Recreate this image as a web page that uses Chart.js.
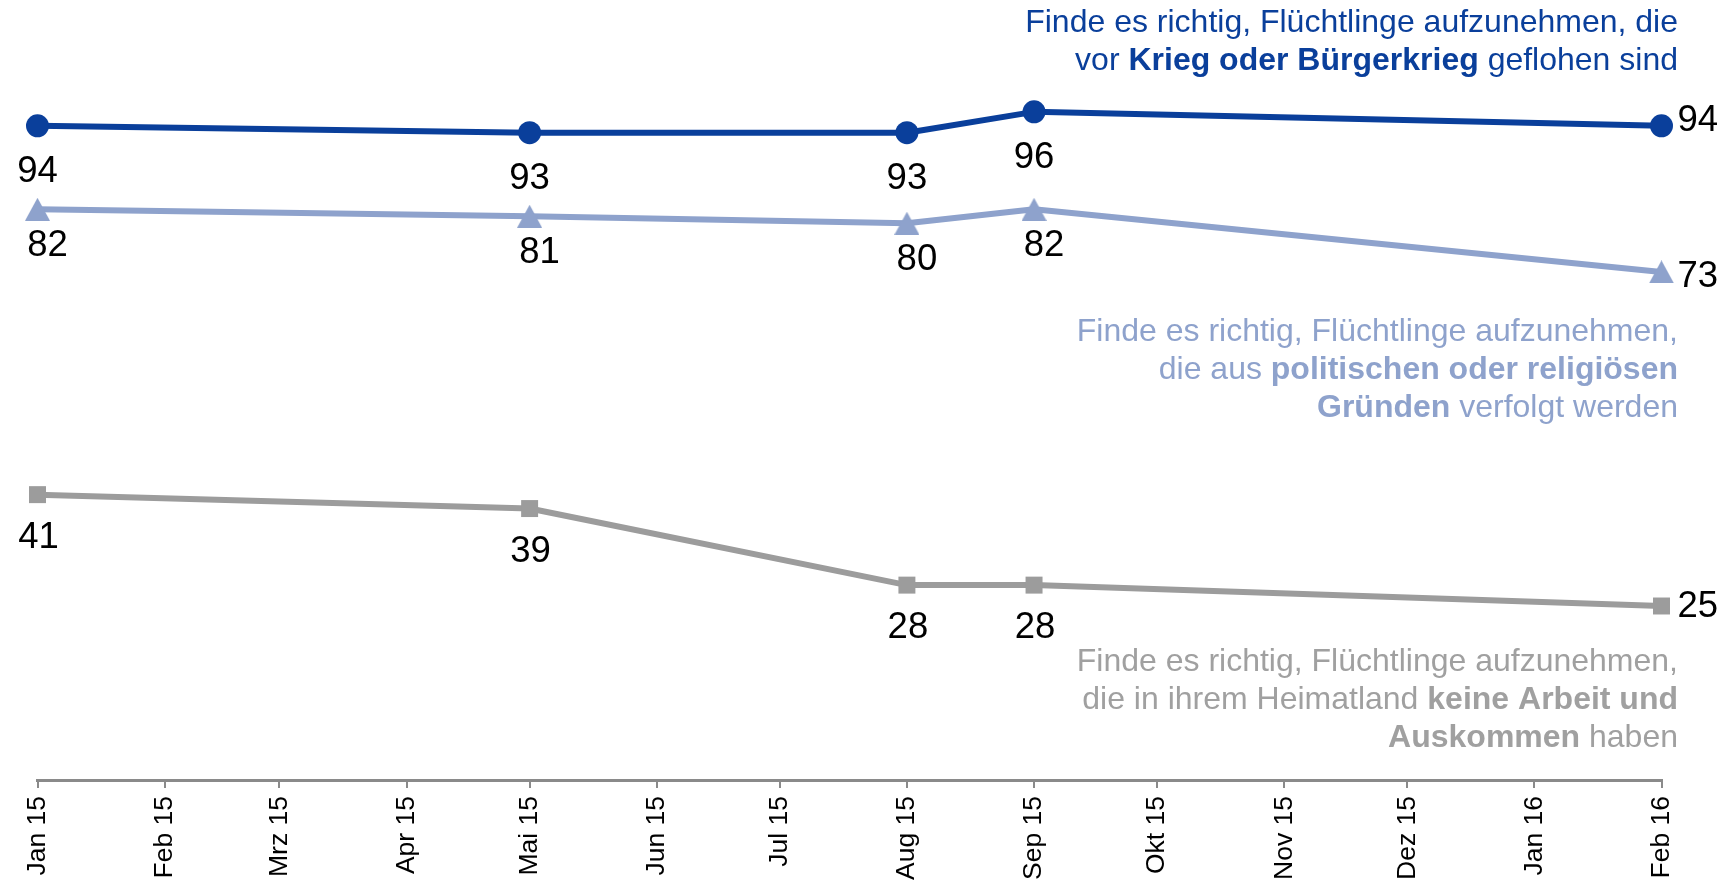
<!DOCTYPE html>
<html><head><meta charset="utf-8">
<script src="https://cdn.jsdelivr.net/npm/chart.js@4.4.1/dist/chart.umd.min.js"></script>
<style>html,body{margin:0;padding:0;background:#fff;overflow:hidden}</style>
</head><body>
<canvas id="c" width="1731" height="882"></canvas>
<script>
// ---- data ----
const surveyDates = ['2015-01-01','2015-05-01','2015-08-01','2015-09-01','2016-02-01'];
const kriegValues = [94, 93, 93, 96, 94];
const politischValues = [82, 81, 80, 82, 73];
const arbeitValues = [41, 39, 28, 28, 25];
const monthLabels = ['Jan 15','Feb 15','Mrz 15','Apr 15','Mai 15','Jun 15','Jul 15','Aug 15','Sep 15','Okt 15','Nov 15','Dez 15','Jan 16','Feb 16'];
const axisStart = '2015-01-01';
const axisEnd = '2016-02-01';
const kriegText = [[['Finde es richtig, Flüchtlinge aufzunehmen, die', false]], [['vor ', false], ['Krieg oder Bürgerkrieg', true], [' geflohen sind', false]]];
const politischText = [[['Finde es richtig, Flüchtlinge aufzunehmen,', false]], [['die aus ', false], ['politischen oder religiösen', true]], [['Gründen', true], [' verfolgt werden', false]]];
const arbeitText = [[['Finde es richtig, Flüchtlinge aufzunehmen,', false]], [['die in ihrem Heimatland ', false], ['keine Arbeit und', true]], [['Auskommen', true], [' haben', false]]];

// ---- helpers ----
const DAY = 86400000;
const t0 = Date.parse(axisStart + 'T00:00:00Z');
const dayIndex = s => (Date.parse(s + 'T00:00:00Z') - t0) / DAY;
const monthDay = i => (Date.UTC(2015, i, 1) - t0) / DAY;
const pts = vals => vals.map((v, i) => ({x: dayIndex(surveyDates[i]), y: v}));
const FONT = "'Liberation Sans', Arial, sans-serif";

const C_DARK = '#0a3f9b', C_LIGHT = '#8ea2cc', C_GRAY = '#9c9c9c';

function triangleImg(color) {
  const w = 25, h = 23;
  const cv = document.createElement('canvas');
  cv.width = w; cv.height = h;
  const g = cv.getContext('2d');
  g.fillStyle = color;
  g.beginPath(); g.moveTo(w / 2, 0); g.lineTo(w, h); g.lineTo(0, h); g.closePath(); g.fill();
  return cv;
}

const dataLabels = {
  id: 'dataLabels',
  afterDatasetsDraw(chart) {
    const ctx = chart.ctx;
    ctx.save();
    ctx.font = '36.5px ' + FONT;
    ctx.fillStyle = '#000';
    ctx.textBaseline = 'middle';
    chart.data.datasets.forEach((ds, di) => {
      const meta = chart.getDatasetMeta(di);
      const st = ds.labelStyle;
      meta.data.forEach((el, i) => {
        const last = i === meta.data.length - 1;
        if (last) {
          ctx.textAlign = 'left';
          ctx.fillText(String(ds.data[i].y), el.x + st.lastDx, el.y + st.lastDy);
        } else {
          ctx.textAlign = 'center';
          ctx.fillText(String(ds.data[i].y), el.x + st.dx, el.y + st.dy);
        }
      });
    });
    ctx.restore();
  }
};

function drawRich(ctx, lines, rightX, baseline0, lineGap, color, size) {
  ctx.save();
  ctx.fillStyle = color;
  ctx.textBaseline = 'alphabetic';
  ctx.textAlign = 'left';
  lines.forEach((segs, li) => {
    let total = 0;
    const widths = segs.map(([t, b]) => { ctx.font = (b ? 'bold ' : '') + size + 'px ' + FONT; const w = ctx.measureText(t).width; total += w; return w; });
    let x = rightX - total;
    segs.forEach(([t, b], si) => {
      ctx.font = (b ? 'bold ' : '') + size + 'px ' + FONT;
      ctx.fillText(t, x, baseline0 + li * lineGap);
      x += widths[si];
    });
  });
  ctx.restore();
}

const annotations = {
  id: 'annotations',
  afterDraw(chart) {
    const ctx = chart.ctx;
    drawRich(ctx, kriegText, 1678, 32, 37.5, C_DARK, 32);
    drawRich(ctx, politischText, 1678, 341, 38, C_LIGHT, 32);
    drawRich(ctx, arbeitText, 1678, 671, 38, '#a0a0a0', 32);
  }
};

new Chart(document.getElementById('c'), {
  type: 'line',
  data: {
    datasets: [
      {
        label: 'Krieg oder Bürgerkrieg',
        data: pts(kriegValues),
        borderColor: C_DARK, backgroundColor: C_DARK,
        borderWidth: 6, pointStyle: 'circle', pointRadius: 11.5, pointBorderWidth: 0,
        labelStyle: {dx: 0, dy: 46, lastDx: 16, lastDy: -5}
      },
      {
        label: 'politischen oder religiösen Gründen',
        data: pts(politischValues),
        borderColor: C_LIGHT, backgroundColor: C_LIGHT,
        borderWidth: 6, pointStyle: triangleImg(C_LIGHT), pointRadius: 12, pointBorderWidth: 0,
        labelStyle: {dx: 10, dy: 37, lastDx: 16, lastDy: 5}
      },
      {
        label: 'keine Arbeit und Auskommen',
        data: pts(arbeitValues),
        borderColor: C_GRAY, backgroundColor: C_GRAY,
        borderWidth: 6, pointStyle: 'rect', pointRadius: 12, pointBorderWidth: 0,
        labelStyle: {dx: 1, dy: 43, lastDx: 16, lastDy: 1}
      }
    ]
  },
  options: {
    responsive: false,
    animation: false,
    devicePixelRatio: 1,
    clip: false,
    layout: {padding: {top: 84, left: 37.5, right: 69.5, bottom: 0}},
    plugins: {legend: {display: false}, tooltip: {enabled: false}},
    elements: {line: {tension: 0, borderJoinStyle: 'round'}},
    scales: {
      x: {
        type: 'linear',
        min: 0,
        max: dayIndex(axisEnd),
        afterBuildTicks: s => { s.ticks = monthLabels.map((_, i) => ({value: monthDay(i)})); },
        afterFit: s => { s.height = 102; },
        grid: {display: true, drawOnChartArea: false, drawTicks: true, tickLength: 8, color: '#8a8a8a', lineWidth: 2},
        border: {display: true, color: '#8a8a8a', width: 3},
        ticks: {
          autoSkip: false, maxRotation: 90, minRotation: 90, padding: 8,
          color: '#000', font: {family: FONT, size: 26.5},
          callback: (v, i) => monthLabels[i]
        }
      },
      y: {display: false, min: 0, max: 100}
    }
  },
  plugins: [dataLabels, annotations]
});
</script>
</body></html>
